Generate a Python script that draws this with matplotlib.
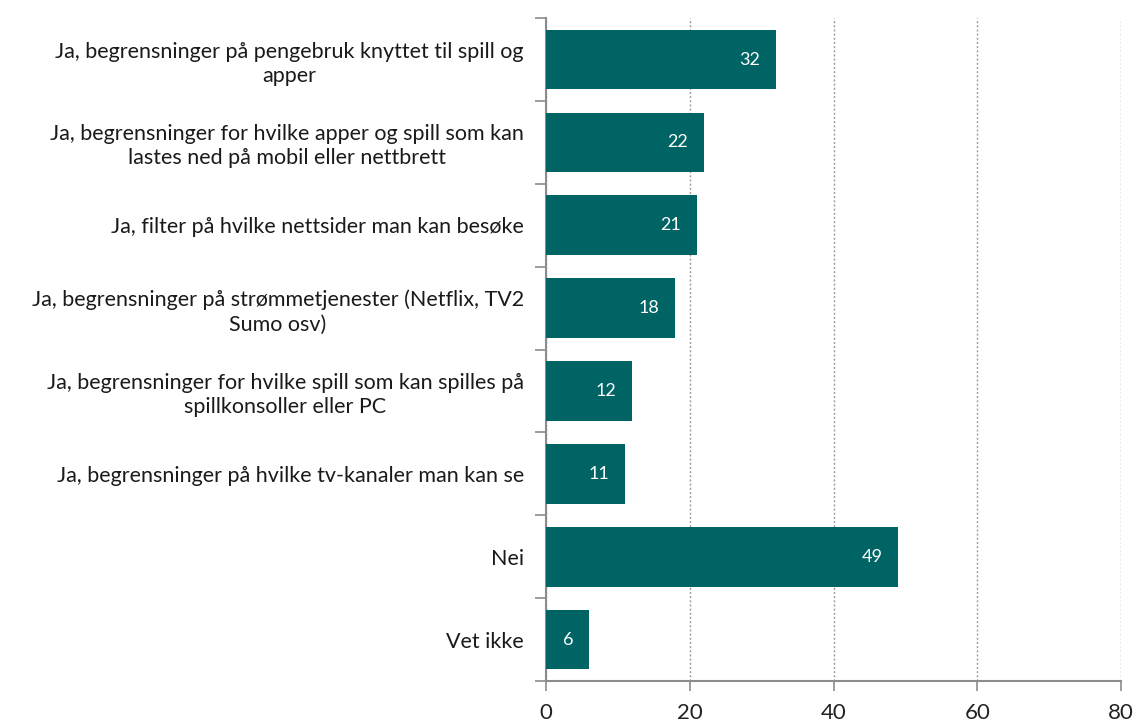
import matplotlib
matplotlib.use("Agg")
import matplotlib.pyplot as plt
from matplotlib.ticker import FixedLocator

categories = [
    "Ja, begrensninger på pengebruk knyttet til spill og\napper",
    "Ja, begrensninger for hvilke apper og spill som kan\nlastes ned på mobil eller nettbrett",
    "Ja, filter på hvilke nettsider man kan besøke",
    "Ja, begrensninger på strømmetjenester (Netflix, TV2\nSumo osv)",
    "Ja, begrensninger for hvilke spill som kan spilles på\nspillkonsoller eller PC",
    "Ja, begrensninger på hvilke tv-kanaler man kan se",
    "Nei",
    "Vet ikke",
]
values = [32, 22, 21, 18, 12, 11, 49, 6]
x_ticks = [0, 20, 40, 60, 80]

bar_color = "#006464"
axis_color = "#8c8c8c"

plt.rcParams["font.family"] = ["Lato", "DejaVu Sans"]

fig = plt.figure(figsize=(11.38, 7.26), dpi=100)
ax = fig.add_axes([0.4798, 0.0620, 0.5053, 0.9130])

ypos = list(range(len(categories)))
ax.barh(ypos, values, height=0.72, color=bar_color, zorder=3)

ax.set_xlim(0, 80)
ax.set_ylim(len(categories) - 0.5, -0.5)

# value labels inside the bar ends
for y, v in zip(ypos, values):
    ax.text(v - 2.2, y, f"{v}", ha="right", va="center", color="white",
            fontsize=13, zorder=4)

# x axis
ax.set_xticks(x_ticks)
ax.set_xticklabels([str(t) for t in x_ticks], fontsize=16, color="#222222")
ax.tick_params(axis="x", direction="out", length=7, width=1.2, color=axis_color, pad=9)
ax.xaxis.grid(True, linestyle=(0, (1.5, 1.5)), color="#9a9a9a", linewidth=1.0, zorder=0)

# y axis: labels at bar centres, ticks at category boundaries
ax.set_yticks(ypos)
ax.set_yticklabels(categories, fontsize=15.5, color="#1a1a1a", ha="right",
                   multialignment="center", linespacing=1.25)
ax.tick_params(axis="y", which="major", length=0, pad=16)
ax.yaxis.set_minor_locator(FixedLocator([i - 0.5 for i in range(len(categories) + 1)]))
ax.tick_params(axis="y", which="minor", direction="out", length=8, width=1.2, color=axis_color)

for side in ("top", "right"):
    ax.spines[side].set_visible(False)
for side in ("left", "bottom"):
    ax.spines[side].set_color(axis_color)
    ax.spines[side].set_linewidth(1.5)

fig.savefig("out.png", dpi=100, facecolor="white")
